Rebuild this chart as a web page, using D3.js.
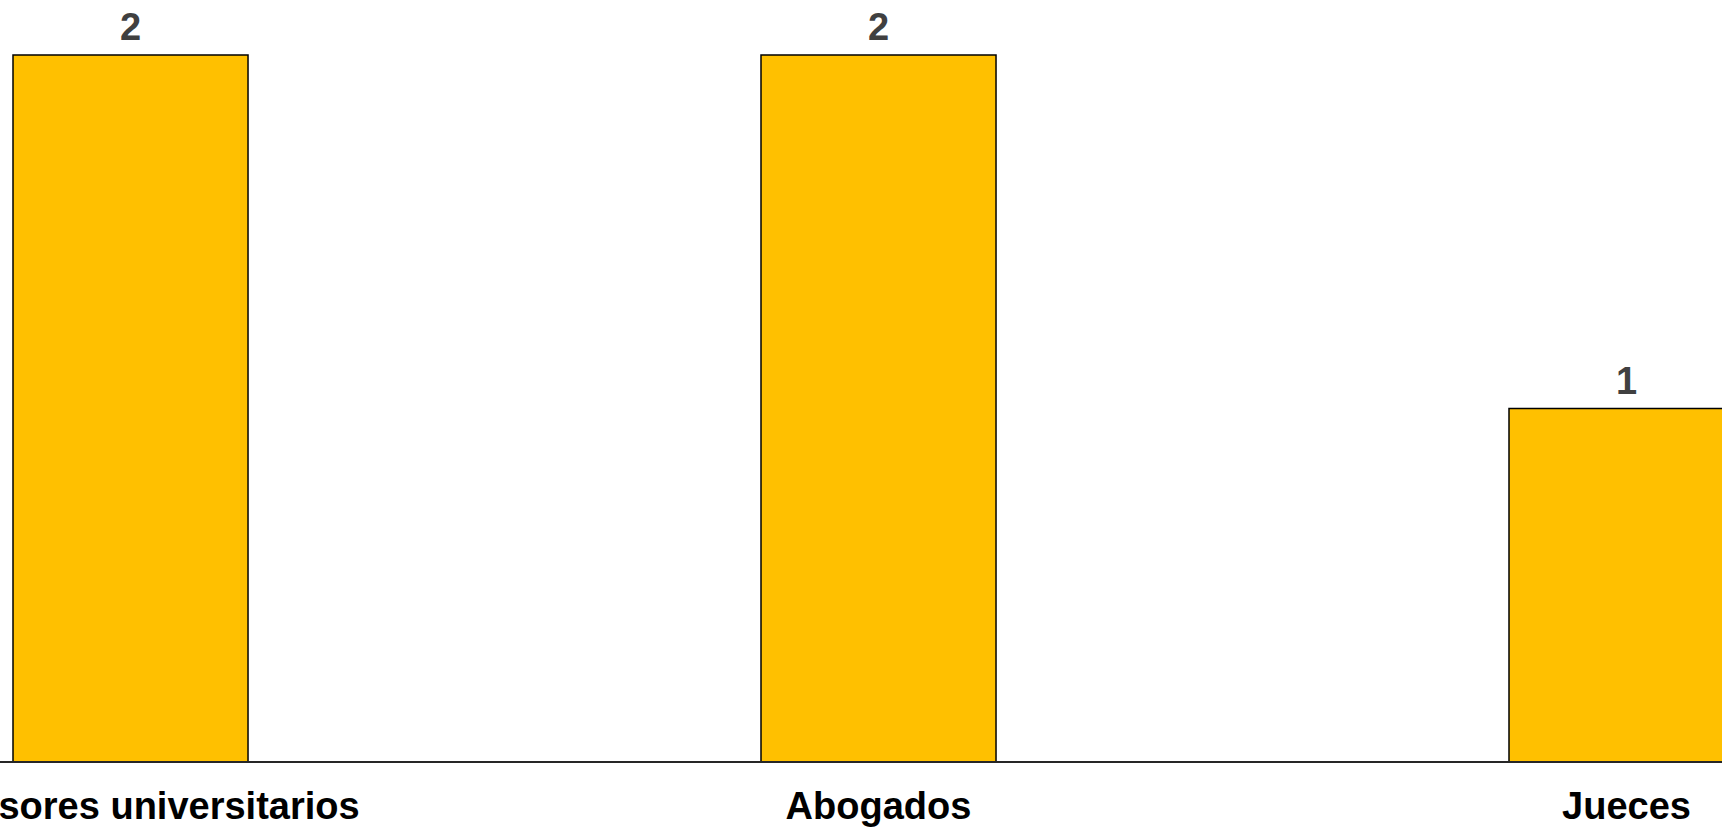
<!DOCTYPE html>
<html>
<head>
<meta charset="utf-8">
<script src="https://cdn.jsdelivr.net/npm/d3@7"></script>
<style>
  html, body { margin: 0; padding: 0; background: #ffffff; overflow: hidden; }
  svg { display: block; font-family: "Liberation Sans", Arial, Helvetica, sans-serif; }
</style>
</head>
<body>
<svg id="chart" width="1722" height="829"></svg>
<script>
const categories = ["Profesores universitarios", "Abogados", "Jueces"];
const values = [2, 2, 1];

const W = 1722, H = 829;
const baseY = 762, topY = 55;
const step = 748, pad = 0.6858;
const firstBarLeft = 13;
const rangeStart = firstBarLeft - pad * step;
const rangeEnd = rangeStart + step * (categories.length - pad + 2 * pad);

const svg = d3.select("#chart");

const x = d3.scaleBand()
  .domain(categories)
  .range([rangeStart, rangeEnd])
  .paddingInner(pad)
  .paddingOuter(pad);

const y = d3.scaleLinear().domain([0, 2]).range([baseY, topY]);

const data = categories.map((c, i) => ({ c, v: values[i] }));

svg.append("g").selectAll("rect")
  .data(data)
  .join("rect")
  .attr("x", d => x(d.c))
  .attr("y", d => y(d.v))
  .attr("width", x.bandwidth())
  .attr("height", d => y(0) - y(d.v))
  .attr("fill", "#FFC000")
  .attr("stroke", "#000000")
  .attr("stroke-width", 1.5);

svg.append("g").selectAll("text")
  .data(data)
  .join("text")
  .attr("x", d => x(d.c) + x.bandwidth() / 2)
  .attr("y", d => y(d.v) - 15)
  .attr("text-anchor", "middle")
  .attr("font-size", 38)
  .attr("font-weight", "bold")
  .attr("fill", "#404040")
  .text(d => d.v);

// x axis baseline
const axis = d3.axisBottom(x).tickSize(0).tickPadding(0);
const gAxis = svg.append("g").attr("transform", `translate(0,${baseY})`).call(axis);
gAxis.select(".domain").remove();
gAxis.selectAll("text")
  .attr("y", 57)
  .attr("dy", 0)
  .attr("font-size", 38)
  .attr("font-weight", "bold")
  .attr("fill", "#000000")
  .attr("font-family", "\"Liberation Sans\", Arial, Helvetica, sans-serif");

svg.append("line")
  .attr("x1", 0).attr("x2", W)
  .attr("y1", baseY).attr("y2", baseY)
  .attr("stroke", "#262626")
  .attr("stroke-width", 2);
</script>
</body>
</html>
